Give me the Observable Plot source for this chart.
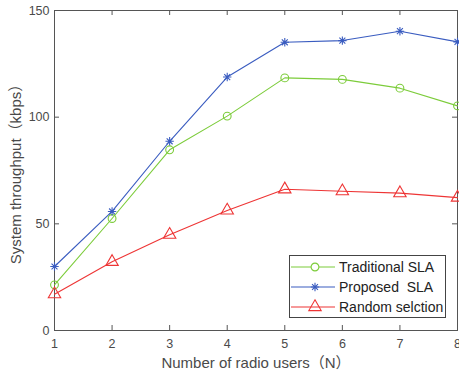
<!DOCTYPE html>
<html><head><meta charset="utf-8">
<script src="https://cdn.jsdelivr.net/npm/d3@7"></script>
<script src="https://cdn.jsdelivr.net/npm/@observablehq/plot@0.6"></script>
<style>
body{margin:0;background:#fff}
#chart svg{font-family:"Liberation Sans",Arial,"Noto Sans CJK SC",sans-serif;overflow:visible}
</style>
</head><body><div id="chart"></div>
<script>
const users = [1, 2, 3, 4, 5, 6, 7, 8];
const traditional = [21.4, 52.5, 84.7, 100.5, 118.4, 117.7, 113.6, 105.3];
const proposed = [30.0, 55.8, 88.7, 118.8, 135.1, 135.9, 140.3, 135.3];
const random = [17.0, 32.2, 44.9, 56.3, 66.2, 65.3, 64.4, 62.3];
const xTicks = [1, 2, 3, 4, 5, 6, 7, 8];
const yTicks = [0, 50, 100, 150];
const seriesNames = ["Traditional SLA", "Proposed  SLA", "Random selction"];
const xLabel = "Number of radio users（N）";
const yLabel = "System throughput（kbps）";

const colors = ["#7ccc3a", "#3a5cc0", "#ee3535"];
const values = [traditional, proposed, random];

// MATLAB-style '*' marker: plus + cross
const star8 = {
  draw(ctx, size) {
    const r = Math.sqrt(size / Math.PI), d = r * Math.SQRT1_2;
    ctx.moveTo(-r, 0); ctx.lineTo(r, 0);
    ctx.moveTo(0, -r); ctx.lineTo(0, r);
    ctx.moveTo(-d, -d); ctx.lineTo(d, d);
    ctx.moveTo(-d, d); ctx.lineTo(d, -d);
  }
};
const symbols = [d3.symbolCircle, star8, d3.symbolTriangle];
const radii = [3.9, 4.2, 4.6];

const rows = [];
seriesNames.forEach((s, i) => users.forEach((u, j) => rows.push({series: s, idx: i, x: u, y: values[i][j]})));

const W = 459, H = 376, mL = 54, mR = 2, mT = 10, mB = 46;
const pw = W - mL - mR, ph = H - mT - mB;
const axisColor = "#555";

const lineMarks = seriesNames.map((s, i) =>
  Plot.line(rows.filter(d => d.idx === i), {x: "x", y: "y", stroke: colors[i], strokeWidth: 1.1})
);
const dotMarks = seriesNames.map((s, i) =>
  Plot.dot(rows.filter(d => d.idx === i), {x: "x", y: "y", stroke: colors[i], fill: "none", symbol: symbols[i], r: radii[i], strokeWidth: 1.1})
);

const plot = Plot.plot({
  width: W, height: H,
  marginLeft: mL, marginRight: mR, marginTop: mT, marginBottom: mB,
  style: {fontSize: "12px", color: "#4a4a4a", background: "#fff"},
  x: {domain: [1, 8]},
  y: {domain: [0, 150]},
  marks: [
    Plot.frame({stroke: axisColor, strokeWidth: 1}),
    Plot.tickX(xTicks, {x: d => d, insetTop: ph - 5, stroke: axisColor}),
    Plot.tickX(xTicks, {x: d => d, insetBottom: ph - 5, stroke: axisColor}),
    Plot.tickY(yTicks, {y: d => d, insetRight: pw - 5, stroke: axisColor}),
    Plot.tickY(yTicks, {y: d => d, insetLeft: pw - 5, stroke: axisColor}),
    Plot.axisX({ticks: xTicks, tickFormat: "d", tickSize: 0, tickPadding: 9, label: null, fontSize: 12.5}),
    Plot.axisY({ticks: yTicks, tickFormat: "d", tickSize: 0, tickPadding: 5, label: null, fontSize: 12.5}),
    ...lineMarks,
    ...dotMarks,
    Plot.text([xLabel], {text: d => d, frameAnchor: "bottom", dy: 33, lineAnchor: "middle", textAnchor: "middle", fontSize: 15, fill: "#4a4a4a"}),
    Plot.text([yLabel], {text: d => d, frameAnchor: "left", dx: -38, rotate: -90, lineAnchor: "middle", textAnchor: "middle", fontSize: 15, fill: "#4a4a4a"})
  ]
});
document.getElementById("chart").appendChild(plot);

// Legend
const svg = d3.select(plot);
const lg = svg.append("g").attr("text-anchor", "start");
lg.append("rect").attr("x", 289.5).attr("y", 255.5).attr("width", 156).attr("height", 62)
  .attr("fill", "#fff").attr("stroke", "#444").attr("stroke-width", 1);
seriesNames.forEach((s, i) => {
  const y = 267 + i * 20;
  lg.append("line").attr("x1", 291).attr("x2", 335).attr("y1", y).attr("y2", y)
    .attr("stroke", colors[i]).attr("stroke-width", 1.1);
  const r = radii[i];
  lg.append("path").attr("transform", `translate(315,${y})`)
    .attr("d", d3.symbol(symbols[i], Math.PI * r * r)())
    .attr("fill", i === 0 ? "#fff" : "none").attr("stroke", colors[i]).attr("stroke-width", 1.1);
  lg.append("text").attr("x", 339).attr("y", y).attr("dy", "0.35em").attr("text-anchor", "start")
    .attr("font-size", 14).attr("fill", "#222").style("white-space", "pre").text(s);
});
</script>
</body></html>
